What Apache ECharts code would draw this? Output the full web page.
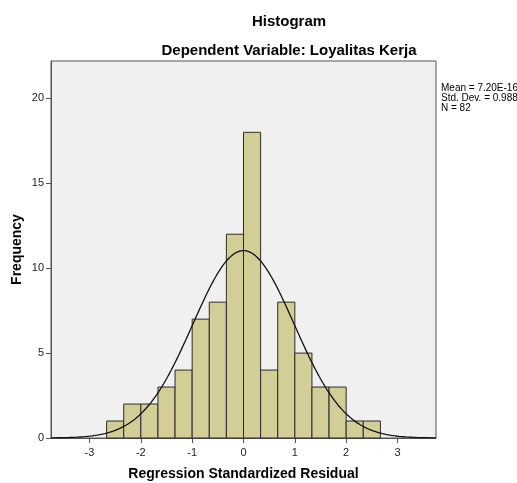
<!DOCTYPE html>
<html>
<head>
<meta charset="utf-8">
<script src="https://cdn.jsdelivr.net/npm/echarts@6/dist/echarts.min.js"></script>
<style>
  html, body { margin: 0; padding: 0; background: #fff; }
  #chart { width: 517px; height: 483px; }
</style>
</head>
<body>
<div id="chart"></div>
<script>
// histogram bins (lower / upper edge, width 1/3)
const binLow  = [-8/3, -7/3, -2, -5/3, -4/3, -1, -2/3, -1/3, 0, 1/3, 2/3, 1, 4/3, 5/3, 2, 7/3]
const binHigh = [-7/3, -2, -5/3, -4/3, -1, -2/3, -1/3, 0, 1/3, 2/3, 1, 4/3, 5/3, 2, 7/3, 8/3]
const counts  = [1, 2, 2, 3, 4, 7, 8, 12, 18, 4, 8, 5, 3, 3, 1, 1]

const xTicks = [-3, -2, -1, 0, 1, 2, 3]
const yTicks = [0, 5, 10, 15, 20]

// stats shown at the right
const mean = 7.20e-16
const stdDev = 0.988
const n = 82
const binWidth = 1 / 3

// normal curve scaled to the counts
let curve = []
for (let x = -3.75; x <= 3.7501; x += 0.025) {
    let z = (x - mean) / stdDev
    let y = n * binWidth * Math.exp(-0.5 * z * z) / (stdDev * Math.sqrt(2 * Math.PI))
    curve.push([x, y])
}

let bars = binLow.map((lo, i) => [lo, binHigh[i], counts[i]])

let chart = echarts.init(document.getElementById('chart'))
const font = 'Arial, "Liberation Sans", sans-serif'

let option = {
    animation: false,
    textStyle: { fontFamily: font },
    title: [{
        text: 'Histogram',
        left: 284,
        top: 9,
        textAlign: 'center',
        textStyle: { fontSize: 15, fontWeight: 'bold', color: '#000', fontFamily: font }
    }, {
        text: 'Dependent Variable: Loyalitas Kerja',
        left: 284,
        top: 38,
        textAlign: 'center',
        textStyle: { fontSize: 15, fontWeight: 'bold', color: '#000', fontFamily: font }
    }],
    graphic: [{
        type: 'text',
        left: 441,
        top: 83,
        style: {
            text: 'Mean = 7.20E-16\nStd. Dev. = 0.988\nN = 82',
            font: '10px ' + font,
            fill: '#000',
            lineHeight: 10
        }
    }],
    grid: {
        left: 51,
        right: 81,
        top: 61,
        bottom: 45,
        outerBoundsMode: 'none',
        show: true,
        backgroundColor: '#f0f0f0',
        borderColor: '#555',
        borderWidth: 1
    },
    xAxis: {
        type: 'value',
        min: -3.75,
        max: 3.75,
        name: 'Regression Standardized Residual',
        nameLocation: 'middle',
        nameGap: 29,
        nameTextStyle: { fontSize: 14, fontWeight: 'bold', color: '#000', fontFamily: font },
        axisLine: { show: true, onZero: false, lineStyle: { color: '#555', width: 1 } },
        axisTick: { show: true, length: 5, customValues: xTicks, lineStyle: { color: '#555' } },
        axisLabel: { customValues: xTicks, fontSize: 11, color: '#222', margin: 9 },
        splitLine: { show: false }
    },
    yAxis: {
        type: 'value',
        min: 0,
        max: 22.2,
        name: 'Frequency',
        nameLocation: 'middle',
        nameGap: 27,
        nameMoveOverlap: false,
        nameTextStyle: { fontSize: 14, fontWeight: 'bold', color: '#000', fontFamily: font },
        axisLine: { show: true, onZero: false, lineStyle: { color: '#555', width: 1 } },
        axisTick: { show: true, length: 5, customValues: yTicks, lineStyle: { color: '#555' } },
        axisLabel: { customValues: yTicks, fontSize: 11, color: '#222', margin: 7 },
        splitLine: { show: false }
    },
    series: [{
        type: 'custom',
        data: bars,
        encode: { x: [0, 1], y: 2 },
        renderItem: (params, api) => {
            let p1 = api.coord([api.value(0), api.value(2)])
            let p2 = api.coord([api.value(1), 0])
            return {
                type: 'rect',
                shape: { x: p1[0], y: p1[1], width: p2[0] - p1[0], height: p2[1] - p1[1] },
                style: { fill: '#d3ce97', stroke: '#2b2b2b', lineWidth: 1 }
            }
        },
        z: 2
    }, {
        type: 'line',
        data: curve,
        showSymbol: false,
        smooth: false,
        lineStyle: { color: '#111', width: 1.3 },
        z: 3
    }]
}
chart.setOption(option)
</script>
</body>
</html>
